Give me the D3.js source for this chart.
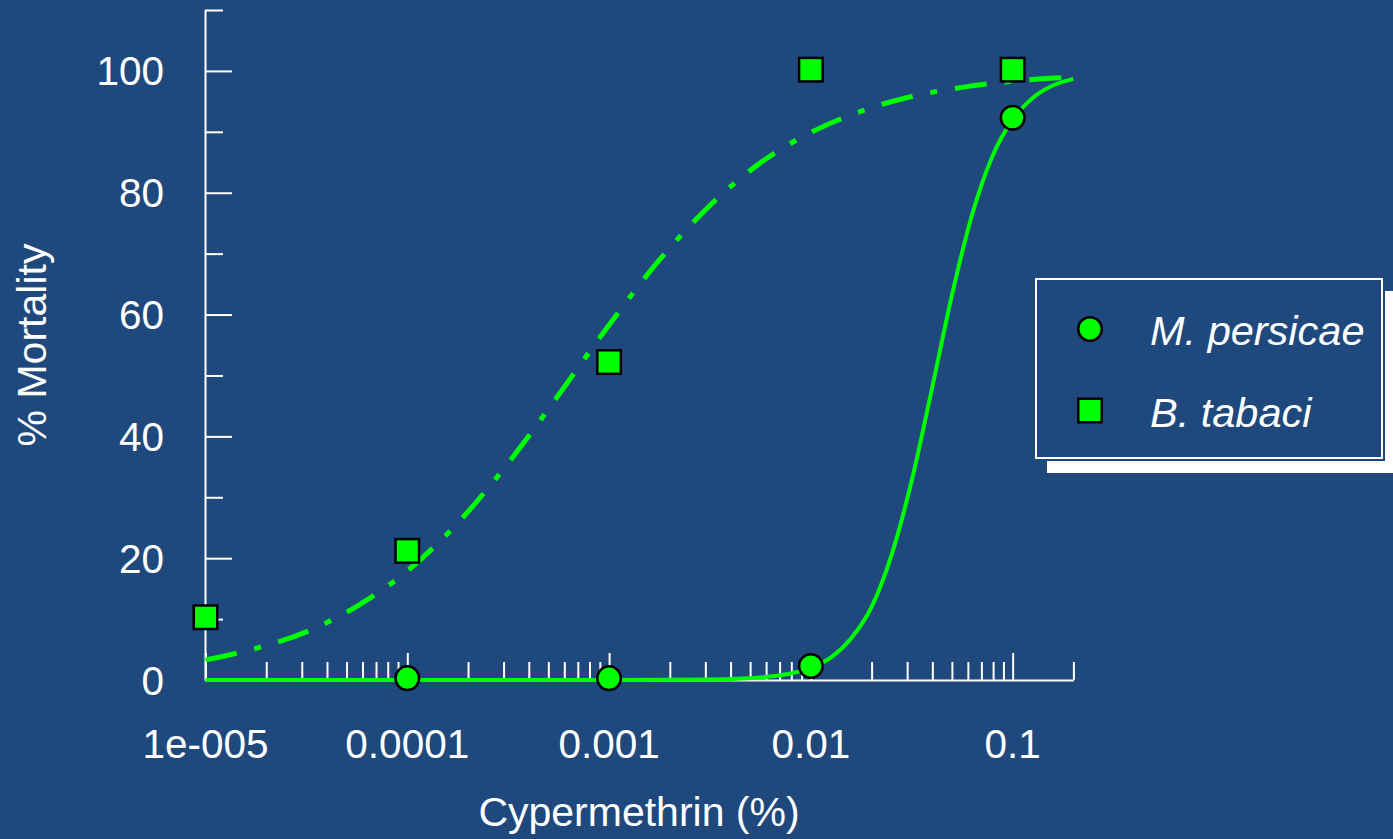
<!DOCTYPE html>
<html><head><meta charset="utf-8">
<script src="https://cdn.jsdelivr.net/npm/d3@7"></script>
<style>html,body{margin:0;padding:0;background:#1F497D;overflow:hidden}</style>
</head><body>
<svg id="chart" width="1393" height="839"></svg>
<script>
// ---------- data ----------
const seriesNames = ["M. persicae", "B. tabaci"];
const persicaeDose = [0.0001, 0.001, 0.01, 0.1];
const persicaeMortality = [0.3, 0.3, 2.3, 92.3];
const tabaciDose = [0.00001, 0.0001, 0.001, 0.01, 0.1];
const tabaciMortality = [10.3, 21.2, 52.2, 100.2, 100.2];

// fitted curves
const persicaeFitDose = [0.00001, 0.0001, 0.001, 0.00316, 0.00562, 0.01, 0.0126, 0.0158, 0.02, 0.0251, 0.0316, 0.0398, 0.0501, 0.0631, 0.0794, 0.1, 0.126, 0.158, 0.2];
const persicaeFitPct  = [0, 0, 0, 0.09, 0.42, 2.0, 3.7, 6.8, 12.0, 20.5, 32.7, 47.8, 63.3, 76.5, 86.0, 92.0, 95.6, 97.6, 98.7];
const tabaciFitDose = [0.00001, 0.0000178, 0.0000316, 0.0000562, 0.0001, 0.000178, 0.000316, 0.000562, 0.001, 0.00178, 0.00316, 0.00562, 0.01, 0.0178, 0.0316, 0.0562, 0.1, 0.178, 0.2];
const tabaciFitPct  = [3.3, 5.2, 7.9, 12.1, 17.9, 25.8, 35.6, 46.8, 58.3, 69.0, 77.9, 84.9, 89.9, 93.4, 95.8, 97.3, 98.3, 98.9, 99.0];

const xMajorTicks = [0.00001, 0.0001, 0.001, 0.01, 0.1];
const xTickLabels = ["1e-005", "0.0001", "0.001", "0.01", "0.1"];
const yMajorTicks = [0, 20, 40, 60, 80, 100];
const yMinorTicks = [10, 30, 50, 70, 90, 110];
const xTitle = "Cypermethrin (%)";
const yTitle = "% Mortality";

// ---------- layout ----------
const BG = "#1F497D", GREEN = "#00FF00", WHITE = "#FFFFFF";
const FONT = "'Liberation Sans', Arial, Helvetica, sans-serif";
const svg = d3.select("#chart");
svg.append("rect").attr("width", 1393).attr("height", 839).attr("fill", BG);

const x = d3.scaleLog().domain([0.00001, 0.2]).range([205.5, 1073.4]);
const y = d3.scaleLinear().domain([0, 110]).range([680, 10]);

// minor x ticks 2..9 per decade + end
const xMinorTicks = [];
for (let e = -5; e <= -1; e++) for (let m = 2; m <= 9; m++) { const v = m * Math.pow(10, e); if (v <= 0.2 + 1e-12) xMinorTicks.push(+v.toPrecision(3)); }

function styleAxis(g) {
  g.selectAll("path,line").attr("stroke", WHITE).attr("stroke-width", 2);
  g.selectAll("text").remove();
}

// x axis (ticks pointing up)
svg.append("g").attr("transform", "translate(0,680)")
  .call(d3.axisTop(x).tickValues(xMinorTicks).tickSize(18).tickSizeOuter(0).tickFormat(""))
  .call(styleAxis);
svg.append("g").attr("transform", "translate(0,680)")
  .call(d3.axisTop(x).tickValues(xMajorTicks).tickSize(27).tickSizeOuter(0).tickFormat(""))
  .call(styleAxis).call(g => g.select(".domain").remove());

// y axis (ticks pointing right)
svg.append("g").attr("transform", "translate(205,0)")
  .call(d3.axisRight(y).tickValues(yMinorTicks).tickSize(18).tickSizeOuter(0).tickFormat(""))
  .call(styleAxis);
svg.append("g").attr("transform", "translate(205,0)")
  .call(d3.axisRight(y).tickValues(yMajorTicks).tickSize(27).tickSizeOuter(0).tickFormat(""))
  .call(styleAxis).call(g => g.select(".domain").remove());

// tick labels
svg.append("g").selectAll("text").data(xMajorTicks).join("text")
  .attr("x", d => x(d)).attr("y", 758)
  .attr("text-anchor", "middle").attr("fill", WHITE)
  .style("font-family", FONT).style("font-size", "40.5px")
  .text((d, i) => xTickLabels[i]);
svg.append("g").selectAll("text").data(yMajorTicks).join("text")
  .attr("x", 164).attr("y", d => y(d) + 14.5)
  .attr("text-anchor", "end").attr("fill", WHITE)
  .style("font-family", FONT).style("font-size", "40.5px")
  .text(d => d);

// titles
svg.append("text").attr("x", 639).attr("y", 826).attr("text-anchor", "middle")
  .attr("fill", WHITE).style("font-family", FONT).style("font-size", "41px").text(xTitle);
svg.append("text").attr("transform", "translate(46,345) rotate(-90)").attr("text-anchor", "middle")
  .attr("fill", WHITE).style("font-family", FONT).style("font-size", "41px").text(yTitle);

// curves
const line = d3.line().x(d => x(d[0])).y(d => y(d[1])).curve(d3.curveMonotoneX);
svg.append("path").datum(persicaeFitDose.map((d, i) => [d, persicaeFitPct[i]]))
  .attr("d", line).attr("fill", "none").attr("stroke", GREEN).attr("stroke-width", 4);
svg.append("path").datum(tabaciFitDose.map((d, i) => [d, tabaciFitPct[i]]))
  .attr("d", line).attr("fill", "none").attr("stroke", GREEN).attr("stroke-width", 5)
  .attr("stroke-dasharray", "32,18,7,18");

// markers
svg.append("g").selectAll("circle").data(persicaeDose).join("circle")
  .attr("cx", d => x(d)).attr("cy", (d, i) => y(persicaeMortality[i])).attr("r", 11.8)
  .attr("fill", GREEN).attr("stroke", "#000").attr("stroke-width", 2.5);
const sq = 23.5;
svg.append("g").selectAll("rect").data(tabaciDose).join("rect")
  .attr("x", d => x(d) - sq / 2).attr("y", (d, i) => y(tabaciMortality[i]) - sq / 2)
  .attr("width", sq).attr("height", sq)
  .attr("fill", GREEN).attr("stroke", "#000").attr("stroke-width", 2.5);

// legend
const lg = svg.append("g");
lg.append("rect").attr("x", 1047).attr("y", 291).attr("width", 346).attr("height", 182).attr("fill", WHITE);
lg.append("rect").attr("x", 1033).attr("y", 276).attr("width", 352).attr("height", 185).attr("fill", BG);
lg.append("rect").attr("x", 1036).attr("y", 279).attr("width", 346).attr("height", 179)
  .attr("fill", "none").attr("stroke", WHITE).attr("stroke-width", 2);
lg.append("circle").attr("cx", 1090).attr("cy", 329).attr("r", 11.8)
  .attr("fill", GREEN).attr("stroke", "#000").attr("stroke-width", 2.5);
lg.append("rect").attr("x", 1090 - sq / 2).attr("y", 410.5 - sq / 2).attr("width", sq).attr("height", sq)
  .attr("fill", GREEN).attr("stroke", "#000").attr("stroke-width", 2.5);
lg.selectAll("text.lab").data(seriesNames).join("text").attr("class", "lab")
  .attr("x", 1150).attr("y", (d, i) => i === 0 ? 345 : 427)
  .attr("fill", WHITE).style("font-family", FONT).style("font-size", "41.5px").style("font-style", "italic")
  .text(d => d);
</script>
</body></html>
